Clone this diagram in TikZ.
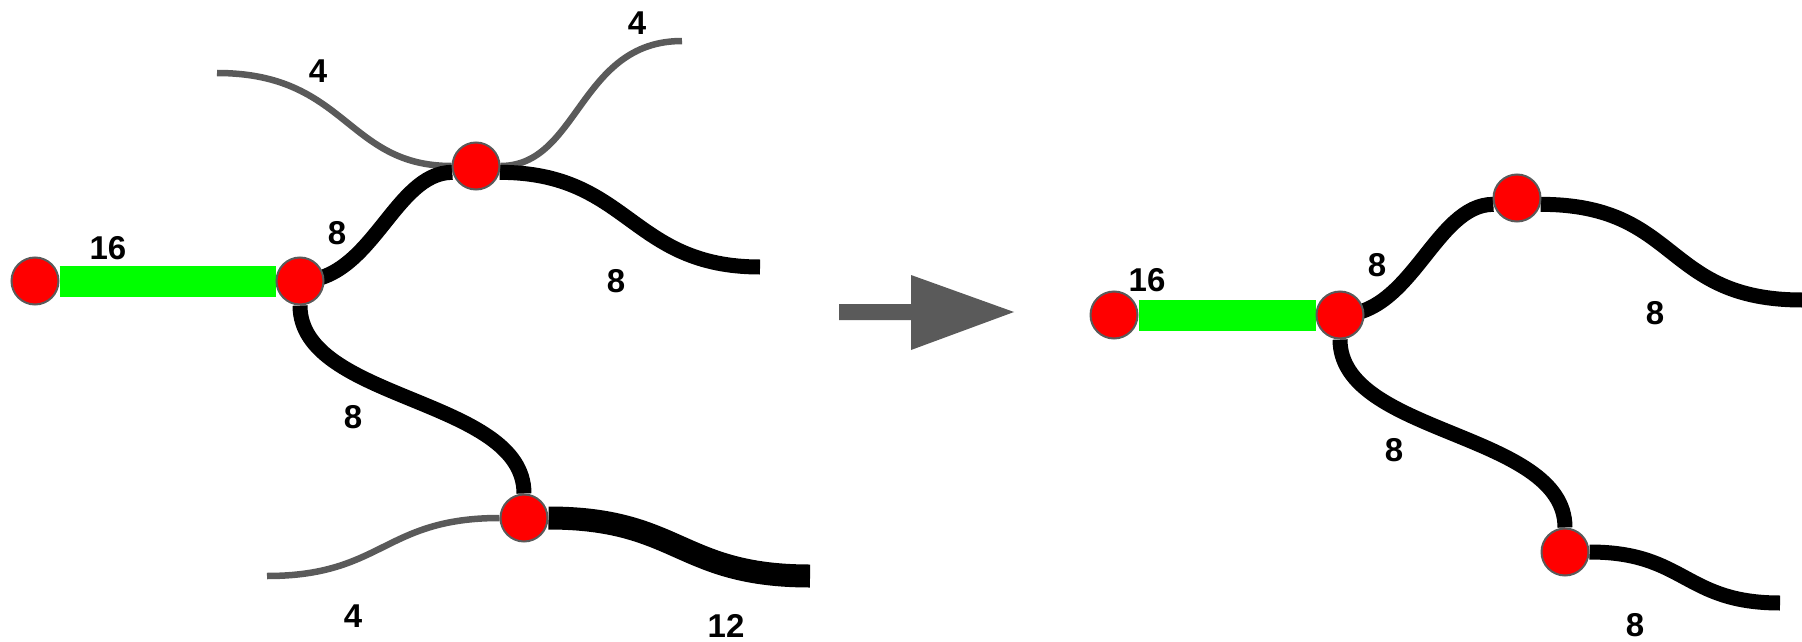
\documentclass[tikz,border=0pt]{standalone}
\usepackage{fontspec}
\setmainfont{Liberation Sans}
\usepackage{xcolor}
\usepackage{tikz}
\usetikzlibrary{shapes, arrows, positioning, backgrounds}
\definecolor{darkgrey}{HTML}{5A5A5A}
\definecolor{brightgreen}{HTML}{00FF00}

\begin{document}
\begin{tikzpicture}[x=1pt, y=-1pt,
        joint/.style={circle, draw=darkgrey, line width=2pt, fill=red, minimum size=47pt, inner sep=0pt},
        width4/.style={draw=darkgrey, line width=6.5pt},
        width8/.style={draw=black, line width=15pt},
        width12/.style={draw=black, line width=23pt},
        width16/.style={draw=brightgreen, line width=31pt},
        lbl/.style={font=\bfseries\fontsize{33}{40}\selectfont, inner sep=0pt}]
        \useasboundingbox (0,0) rectangle (1802,642);

        \node (j1) [joint] at (35,281) {};
        \node (j2) [joint, right=216pt of j1] {};
        \node (j3) [joint] at (476,166) {};
        \node (j4) [joint] at (524,518) {};
        \coordinate (g1) at (217,73);
        \coordinate (g2) at (682,41);
        \coordinate (g3) at (267,576);
        \coordinate (e1) at (760,267);
        \coordinate (e2) at (810,576);

        \node (k1) [joint] at (1114,315) {};
        \node (k2) [joint, right=177pt of k1] {};
        \node (k3) [joint] at (1517,198) {};
        \node (k4) [joint] at (1565,552) {};
        \coordinate (f1) at (1802,300);
        \coordinate (f2) at (1780,603);

        \begin{scope}[on background layer]
        \draw[width16] (j1) -- (j2);
        \draw[width4] (g1) .. controls +(130,0) and +(-130,0) .. (j3) .. controls +(103,0) and +(-103,0) .. (g2);
        \draw[width8] (j2.center) .. controls +(72,0) and +(-58,0) .. (j3.195);
        \draw[width8] (j3.345) .. controls +(130,0) and +(-130,0) .. (e1);
        \draw[width8] (j2.south) .. controls +(0,96) and +(0,-96) .. (j4.north);
        \draw[width4] (g3) .. controls +(116,0) and +(-116,0) .. (j4.west);
        \draw[width12] (j4.east) .. controls +(131,0) and +(-131,0) .. (e2);

        \draw[width16] (k1) -- (k2);
        \draw[width8] (k2.center) .. controls +(72,0) and +(-58,0) .. (k3.195);
        \draw[width8] (k3.345) .. controls +(140,0) and +(-140,0) .. (f1);
        \draw[width8] (k2.south) .. controls +(0,96) and +(0,-96) .. (k4.north);
        \draw[width8] (k4.east) .. controls +(96,0) and +(-96,0) .. (f2);
        \end{scope}

        \fill[darkgrey] (839,304) -- (911,304) -- (911,275) -- (1014,312) -- (911,350) -- (911,320) -- (839,320) -- cycle;

        \node (w1) [lbl] at (108,248) {16};
        \node (w2) [lbl] at (318,71) {4};
        \node (w3) [lbl] at (637,23) {4};
        \node (w4) [lbl] at (337,233) {8};
        \node (w5) [lbl] at (616,281) {8};
        \node (w6) [lbl] at (353,417) {8};
        \node (w7) [lbl] at (353,616) {4};
        \node (w8) [lbl] at (726,626) {12};

        \node (v1) [lbl] at (1147,280) {16};
        \node (v2) [lbl] at (1377,265) {8};
        \node (v3) [lbl] at (1655,313) {8};
        \node (v4) [lbl] at (1394,450) {8};
        \node (v5) [lbl] at (1635,625) {8};
    \end{tikzpicture}
\end{document}
